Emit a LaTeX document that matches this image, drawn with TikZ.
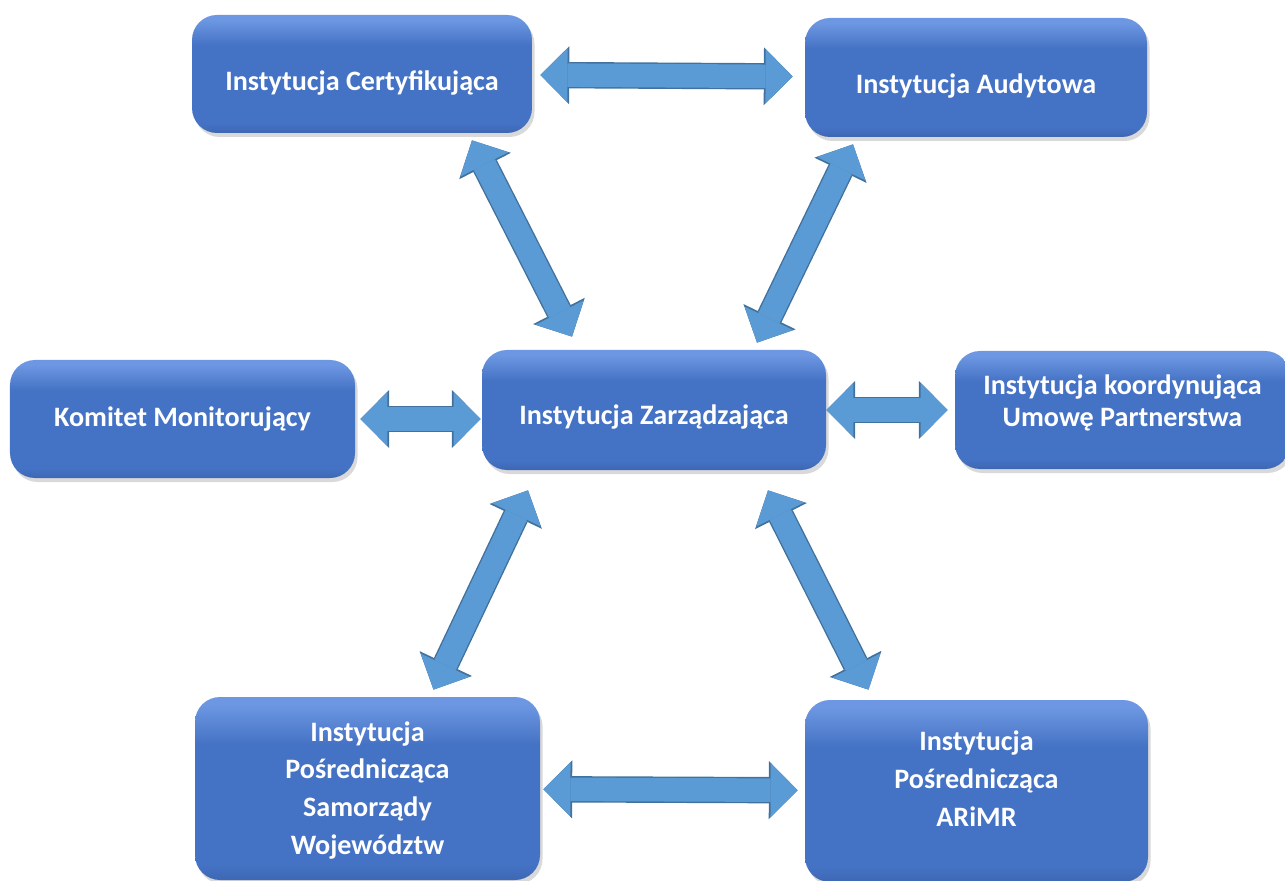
\documentclass[tikz,border=0pt]{standalone}
\usepackage{fontspec}
\setmainfont{Carlito}
\usepackage{tikz}
\usetikzlibrary{arrows.meta,
shadows
}
\definecolor{boxbase}{HTML}{4472C4}
\definecolor{boxlight}{HTML}{6D97E2}
\definecolor{boxdark}{HTML}{3D67B3}
\definecolor{linkfill}{HTML}{5B9BD5}
\definecolor{linkedge}{HTML}{41719C}
\pgfdeclareverticalshading{bevel}{100bp}{color(0bp)=(boxdark); color(25bp)=(boxdark); color(29bp)=(boxbase); color(62bp)=(boxbase); color(73bp)=(boxlight); color(100bp)=(boxlight)}
\tikzset{
  box/.style={rounded corners=0.5cm, shading=bevel,
    drop shadow={opacity=0.3, shadow xshift=0.05cm, shadow yshift=-0.08cm}},
  boxtext/.style={text=white, align=center, font=\fontsize{16}{21.5}\selectfont\bfseries},
  link/.style={draw=linkedge, line width=15pt,
    {Triangle[length=16.4pt,width=33pt,line width=0pt]}-{Triangle[length=16.4pt,width=33pt,line width=0pt]},
    postaction={draw=linkfill, line width=13.4pt,
      {Triangle[length=15.4pt,width=30.6pt,line width=0pt]}-{Triangle[length=15.4pt,width=30.6pt,line width=0pt]}}}
}

\begin{document}
\begin{tikzpicture}
            \useasboundingbox (0,0) rectangle (25.7,-17.62);

            \node[box, minimum width=6.8cm, minimum height=2.36cm,
              label={[boxtext, yshift=-5.3pt]center:Instytucja Certyfikująca}] (cert) at (7.24,-1.48) {};
            \node[box, minimum width=6.84cm, minimum height=2.38cm,
              label={[boxtext, yshift=-5pt]center:Instytucja Audytowa}] (aud) at (19.52,-1.55) {};
            \node[box, minimum width=6.9cm, minimum height=2.36cm,
              label={[boxtext]center:Komitet Monitorujący}] (kom) at (3.65,-8.38) {};
            \node[box, minimum width=6.88cm, minimum height=2.4cm,
              label={[boxtext, yshift=-4.2pt]center:Instytucja Zarządzająca}] (zarz) at (13.08,-8.2) {};
            \node[box, minimum width=6.7cm, minimum height=2.36cm,
              label={[boxtext, font=\fontsize{16}{18}\selectfont\bfseries, yshift=4pt]center:{Instytucja koordynująca\\Umowę Partnerstwa}}] (koord) at (22.45,-8.2) {};
            \node[box, minimum width=6.9cm, minimum height=3.66cm,
              label={[boxtext, yshift=-1pt]center:{Instytucja\\Pośrednicząca\\Samorządy\\Województw}}] (sam) at (7.35,-15.77) {};
            \node[box, minimum width=6.86cm, minimum height=3.64cm,
              label={[boxtext, yshift=7pt]center:{Instytucja\\Pośrednicząca\\ARiMR}}] (arimr) at (19.53,-15.82) {};

            \draw[link, shorten <=0.16cm, shorten >=0.24cm] (cert) -- (aud);
            \draw[link] ([xshift=2.2cm,yshift=-0.14cm]cert.south) -- ([xshift=-1.64cm,yshift=0.26cm]zarz.north);
            \draw[link] ([xshift=-2.46cm,yshift=-0.14cm]aud.south) -- ([xshift=2.06cm,yshift=0.14cm]zarz.north);
            \draw[link, shorten <=0.1cm, shorten >=0.02cm] (kom.east) -- (kom.east -| zarz.west);
            \draw[link, shorten >=0.14cm] (zarz) -- (koord);
            \draw[link] ([xshift=-2.52cm,yshift=-0.4cm]zarz.south) -- ([xshift=1.32cm,yshift=0.14cm]sam.north);
            \draw[link] ([xshift=2.28cm,yshift=-0.4cm]zarz.south) -- ([xshift=-2.16cm,yshift=0.2cm]arimr.north);
            \draw[link, shorten <=0.06cm, shorten >=0.14cm] (sam) -- (arimr);

        \end{tikzpicture}
\end{document}
